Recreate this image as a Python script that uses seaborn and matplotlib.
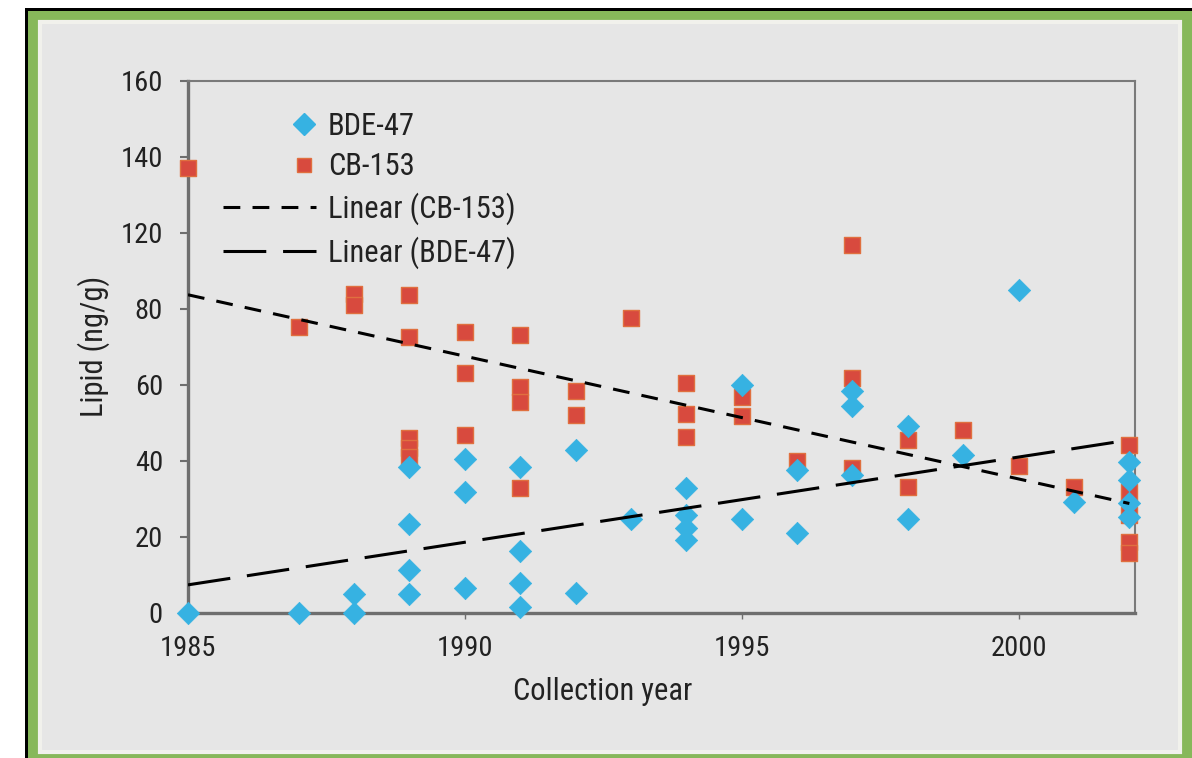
import matplotlib
matplotlib.use("Agg")
import matplotlib.pyplot as plt
import seaborn as sns
import pandas as pd
from matplotlib.lines import Line2D
from matplotlib.patches import Rectangle
from matplotlib.legend_handler import HandlerLine2D

# values (y in axis-position units, top of the axis = 140)
bde_years = [1985, 1987, 1988, 1988, 1989, 1989, 1989, 1989, 1990, 1990, 1990,
             1991, 1991, 1991, 1991, 1992, 1992, 1993, 1994, 1994, 1994, 1994,
             1995, 1995, 1996, 1996, 1997, 1997, 1997, 1998, 1998, 1999, 2000,
             2001, 2002, 2002, 2002, 2002]
bde_lipid = [0, 0, 0, 5, 38.4, 23.4, 11.3, 5.0, 40.5, 31.8, 6.6,
             38.4, 16.3, 7.9, 1.6, 42.9, 5.3, 24.7, 33, 25.8, 22.4, 19.2,
             60, 24.7, 37.6, 21, 58.4, 54.5, 36.3, 49.2, 24.7, 41.6, 85,
             29.2, 39.7, 35, 29, 25.3]

cb_years = [1985, 1987, 1988, 1988, 1989, 1989, 1989, 1989, 1989, 1990, 1990,
            1990, 1991, 1991, 1991, 1991, 1992, 1992, 1993, 1994, 1994, 1994,
            1995, 1995, 1996, 1997, 1997, 1997, 1998, 1998, 1999, 2000, 2001,
            2002, 2002, 2002, 2002, 2002]
cb_lipid = [117, 75.3, 84, 81, 83.7, 72.6, 46, 43.5, 41, 74, 63,
            46.8, 73, 59.5, 55.5, 33, 58.4, 52, 77.6, 60.5, 52.4, 46.3,
            56.8, 51.8, 40, 96.8, 61.8, 38.2, 45.5, 33.2, 48.2, 38.7, 33.2,
            44.2, 31.8, 25.8, 18.7, 15.8]

# linear trend end points
trend_years = [1985, 2002]
cb_trend = [83.7, 28.8]
bde_trend = [7.4, 45.5]

x_ticks = [1985, 1990, 1995, 2000]
y_tick_labels = ["0", "20", "40", "60", "80", "120", "140", "160"]

bde = pd.DataFrame({"year": bde_years, "lipid": bde_lipid})
cb = pd.DataFrame({"year": cb_years, "lipid": cb_lipid})


class RightMarker(HandlerLine2D):
    # put the legend marker near the right end of the handle, like Excel does
    def get_xdata(self, legend, xdescent, ydescent, width, height, fontsize):
        x = [-xdescent + width * 0.87]
        return x, x


sns.set_theme(style="white")
plt.rcParams["font.family"] = ["Liberation Sans Narrow", "Roboto Condensed", "DejaVu Sans"]
plt.rcParams["font.stretch"] = "condensed"
plt.rcParams["text.color"] = "#222222"
plt.rcParams["axes.labelcolor"] = "#222222"
plt.rcParams["xtick.color"] = "#222222"
plt.rcParams["ytick.color"] = "#222222"

fig = plt.figure(figsize=(11.92, 7.58), dpi=100, facecolor="white")

# frame: black outline, green band, light grey panel
fig.patches.append(Rectangle((0.021, 0), 0.979, 0.9894, transform=fig.transFigure,
                             facecolor="black", edgecolor="none", zorder=-3))
fig.patches.append(Rectangle((0.0235, 0), 0.9765, 0.9855, transform=fig.transFigure,
                             facecolor="#87b85a", edgecolor="none", zorder=-2))
fig.patches.append(Rectangle((0.0336, 0.0079), 0.9564, 0.9631, transform=fig.transFigure,
                             facecolor="#e6e6e6", edgecolor="#f1f1ec", linewidth=3, zorder=-1))

ax = fig.add_axes([0.1577, 0.1913, 0.7944, 0.7022])
ax.set_facecolor("none")

red = "#d84a3e"
blue = "#36b2e2"

sns.scatterplot(data=cb, x="year", y="lipid", ax=ax, marker="s", s=120,
                color=red, edgecolor="#e0703f", linewidth=1, zorder=3, clip_on=False)
sns.scatterplot(data=bde, x="year", y="lipid", ax=ax, marker="D", s=130,
                color=blue, edgecolor=blue, linewidth=0.5, zorder=4, clip_on=False)

sns.lineplot(x=trend_years, y=cb_trend, ax=ax, color="black", linewidth=2.2,
             linestyle=(0, (5.5, 4)), zorder=5)
sns.lineplot(x=trend_years, y=bde_trend, ax=ax, color="black", linewidth=2.2,
             linestyle=(0, (14, 5.5)), zorder=5)

ax.set_xlim(1985, 2002.1)
ax.set_ylim(0, 140)
ax.set_xticks(x_ticks)
ax.set_xticklabels([str(t) for t in x_ticks])
ax.set_yticks(range(0, 141, 20))
ax.set_yticklabels(y_tick_labels)

ax.tick_params(axis="y", direction="out", length=6, width=1.5, pad=12,
               labelsize=20.5, color="#6e6e6e", left=True)
ax.tick_params(axis="x", direction="out", length=4, width=1, pad=12,
               labelsize=20.5, color="#6e6e6e", bottom=True)

for side in ["left", "bottom"]:
    ax.spines[side].set_color("#6e6e6e")
    ax.spines[side].set_linewidth(2.4)
for side in ["top", "right"]:
    ax.spines[side].set_color("#7a7a7a")
    ax.spines[side].set_linewidth(1.5)

ax.set_xlabel("Collection year", fontsize=22)
ax.set_ylabel("Lipid (ng/g)", fontsize=22)
ax.xaxis.set_label_coords(0.438, -0.148)
ax.yaxis.set_label_coords(-0.1, 0.5)
ax.xaxis.label.set_va("center")
ax.yaxis.label.set_va("center")

bde_handle = Line2D([], [], linestyle="none", marker="D", markersize=11, color=blue)
cb_handle = Line2D([], [], linestyle="none", marker="s", markersize=10, color=red,
                   markeredgecolor="#e0703f")
handles = [
    bde_handle,
    cb_handle,
    Line2D([], [], color="black", linewidth=2.2, linestyle=(0, (5.5, 4))),
    Line2D([], [], color="black", linewidth=2.2, linestyle=(0, (14, 5.5))),
]
labels = ["BDE-47", "CB-153", "Linear (CB-153)", "Linear (BDE-47)"]
ax.legend(handles, labels, loc="upper left", bbox_to_anchor=(0.008, 0.993),
          frameon=False, fontsize=22, handlelength=3.04, handletextpad=0.39,
          labelspacing=0.37, borderpad=0.4,
          handler_map={bde_handle: RightMarker(), cb_handle: RightMarker()})

plt.savefig("out.png", dpi=100)
